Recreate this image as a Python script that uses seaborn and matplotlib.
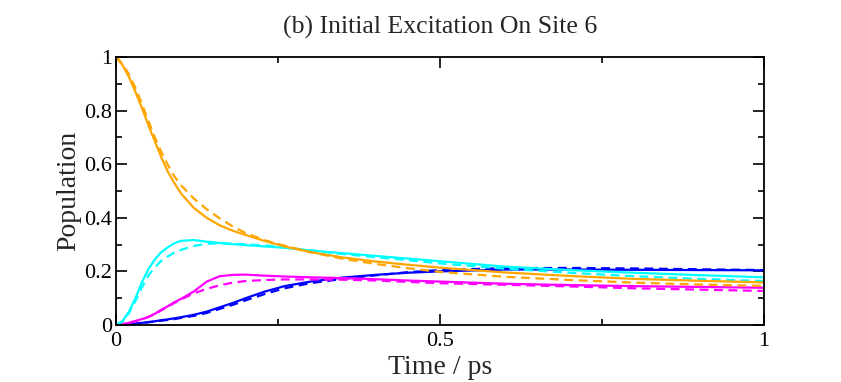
import numpy as np
import pandas as pd
import matplotlib
matplotlib.use("Agg")
import matplotlib.pyplot as plt
import seaborn as sns
from matplotlib.ticker import MultipleLocator

time = [0, 0.01, 0.02, 0.03, 0.04, 0.05, 0.06, 0.07, 0.08, 0.09, 0.10, 0.12, 0.14,
        0.16, 0.18, 0.20, 0.23, 0.26, 0.30, 0.35, 0.40, 0.45, 0.50, 0.60, 0.70,
        0.80, 0.90, 1.00]

orange_solid = [1.0, 0.97, 0.925, 0.87, 0.81, 0.745, 0.685, 0.625, 0.572, 0.53, 0.492,
                0.437, 0.40, 0.372, 0.352, 0.336, 0.313, 0.293, 0.272, 0.252, 0.237,
                0.225, 0.214, 0.196, 0.183, 0.172, 0.165, 0.159]
orange_dash = [1.0, 0.975, 0.935, 0.885, 0.825, 0.762, 0.70, 0.645, 0.597, 0.555, 0.522,
               0.472, 0.432, 0.398, 0.368, 0.343, 0.316, 0.296, 0.272, 0.247, 0.228,
               0.212, 0.198, 0.180, 0.168, 0.158, 0.151, 0.146]
cyan_solid = [0.0, 0.015, 0.05, 0.10, 0.16, 0.208, 0.245, 0.272, 0.29, 0.305, 0.314,
              0.317, 0.311, 0.306, 0.302, 0.298, 0.293, 0.288, 0.278, 0.268, 0.258,
              0.248, 0.238, 0.218, 0.205, 0.195, 0.186, 0.178]
cyan_dash = [0.0, 0.012, 0.045, 0.09, 0.14, 0.185, 0.215, 0.24, 0.256, 0.27, 0.28,
             0.295, 0.303, 0.305, 0.303, 0.301, 0.297, 0.29, 0.278, 0.265, 0.253,
             0.242, 0.230, 0.210, 0.195, 0.182, 0.172, 0.164]
magenta_solid = [0.0, 0.003, 0.008, 0.015, 0.022, 0.03, 0.042, 0.057, 0.07, 0.085, 0.097,
                 0.125, 0.162, 0.182, 0.187, 0.188, 0.184, 0.181, 0.178, 0.175, 0.171,
                 0.166, 0.162, 0.154, 0.149, 0.145, 0.142, 0.139]
magenta_dash = [0.0, 0.003, 0.008, 0.014, 0.021, 0.03, 0.041, 0.055, 0.068, 0.082, 0.095,
                0.118, 0.135, 0.148, 0.158, 0.164, 0.168, 0.17, 0.17, 0.169, 0.166,
                0.161, 0.156, 0.150, 0.144, 0.137, 0.132, 0.127]
blue_solid = [0.0, 0.0, 0.002, 0.005, 0.008, 0.011, 0.014, 0.018, 0.021, 0.025, 0.029,
              0.038, 0.05, 0.066, 0.082, 0.10, 0.125, 0.145, 0.162, 0.177, 0.187,
              0.195, 0.200, 0.207, 0.207, 0.206, 0.205, 0.204]
blue_dash = [0.0, 0.0, 0.002, 0.004, 0.007, 0.01, 0.013, 0.016, 0.019, 0.022, 0.026,
             0.034, 0.045, 0.06, 0.075, 0.092, 0.116, 0.137, 0.156, 0.172, 0.185,
             0.197, 0.205, 0.212, 0.213, 0.211, 0.208, 0.205]

x_ticks = [0, 0.5, 1]
x_tick_labels = ["0", "0.5", "1"]
y_ticks = [0, 0.2, 0.4, 0.6, 0.8, 1]
y_tick_labels = ["0", "0.2", "0.4", "0.6", "0.8", "1"]

title = "(b) Initial Excitation On Site 6"
xlabel = "Time / ps"
ylabel = "Population"

sns.set_style("ticks")
plt.rcParams["font.family"] = ["Liberation Serif", "DejaVu Serif"]

fig = plt.figure(figsize=(8.41, 3.82), dpi=100)
ax = fig.add_axes([116 / 841, 1 - 325 / 382, (764 - 116) / 841, (325 - 57) / 382])

dash = (0, (4, 2.5))
series = [
    (blue_solid, "#0000ff", "-"),
    (blue_dash, "#0000ff", dash),
    (magenta_solid, "#ff00ff", "-"),
    (magenta_dash, "#ff00ff", dash),
    (cyan_solid, "#00ffff", "-"),
    (cyan_dash, "#00ffff", dash),
    (orange_solid, "#ffa500", "-"),
    (orange_dash, "#ffa500", dash),
]
for vals, col, ls in series:
    sns.lineplot(x=time, y=vals, ax=ax, color=col, linestyle=ls, linewidth=1.6)

ax.set_xlim(0, 1)
ax.set_ylim(0, 1)
ax.xaxis.set_minor_locator(MultipleLocator(0.25))
ax.yaxis.set_minor_locator(MultipleLocator(0.1))
ax.set_xticks(x_ticks)
ax.set_xticklabels(x_tick_labels)
ax.set_yticks(y_ticks)
ax.set_yticklabels(y_tick_labels)
ax.tick_params(which="both", direction="in", top=True, right=True, width=1.2,
               labelsize=16, colors="black")
ax.tick_params(which="major", length=8)
ax.tick_params(which="minor", length=4)
ax.tick_params(axis="x", which="major", pad=5)
ax.tick_params(axis="y", which="major", pad=3)
for s in ax.spines.values():
    s.set_linewidth(1.3)
    s.set_color("black")
    s.set_visible(True)

ax.set_title(title, fontsize=18.5, pad=17)
ax.set_xlabel(xlabel, fontsize=20, labelpad=3)
ax.set_ylabel(ylabel, fontsize=20, labelpad=2)

fig.savefig("out.png", dpi=100)
